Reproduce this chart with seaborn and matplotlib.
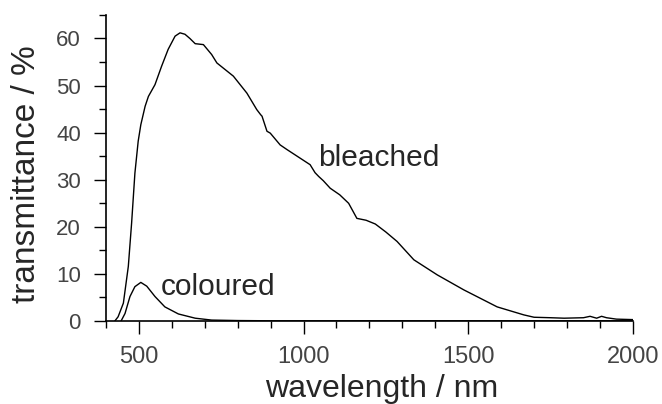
import numpy as np
import pandas as pd
import matplotlib
matplotlib.use("Agg")
import matplotlib.pyplot as plt
from matplotlib.ticker import MultipleLocator
import seaborn as sns

# bleached spectrum (wavelength nm, transmittance %)
bleached_nm = [427, 437, 453, 468, 478, 488, 498, 506, 519, 529, 549, 569, 589, 610, 625,
               640, 655, 671, 696, 721, 737, 762, 787, 828, 858, 870, 874, 889, 899, 929,
               950, 985, 1020, 1035, 1046, 1060, 1081, 1110, 1137, 1162, 1190, 1218, 1250,
               1284, 1335, 1406, 1487, 1588, 1669, 1700, 1750, 1791, 1850, 1870, 1890,
               1905, 1920, 1950, 2000]
bleached_T = [0.0, 0.9, 3.8, 11.6, 20.8, 31.4, 38.2, 41.7, 45.6, 47.7, 50.2, 54.1, 57.7,
              60.5, 61.2, 60.9, 60.0, 58.9, 58.7, 56.6, 54.8, 53.4, 52.0, 48.4, 44.9, 43.8,
              43.5, 40.3, 39.9, 37.4, 36.4, 34.8, 33.2, 31.5, 30.7, 29.8, 28.2, 26.8, 25.0,
              21.8, 21.4, 20.6, 18.9, 16.9, 13.0, 9.8, 6.6, 3.0, 1.3, 0.8, 0.7, 0.6, 0.7,
              1.0, 0.6, 1.0, 0.7, 0.4, 0.3]

# coloured spectrum
coloured_nm = [446, 458, 473, 488, 506, 524, 549, 579, 620, 671, 721, 800, 900, 1200, 1600, 2000]
coloured_T = [0.0, 1.6, 5.2, 7.3, 8.2, 7.4, 5.2, 3.0, 1.5, 0.6, 0.2, 0.1, 0.05, 0.05, 0.05, 0.05]

df = pd.concat([
    pd.DataFrame({"wavelength": bleached_nm, "T": bleached_T, "state": "bleached"}),
    pd.DataFrame({"wavelength": coloured_nm, "T": coloured_T, "state": "coloured"}),
])

sns.set_style("ticks")
plt.rcParams["font.family"] = ["Liberation Sans", "DejaVu Sans"]

fig = plt.figure(figsize=(6.62, 4.04), dpi=100)
ax = fig.add_axes([0.160, 0.2054, 0.796, 0.7576])

sns.lineplot(data=df, x="wavelength", y="T", hue="state", units="state", estimator=None,
             palette={"bleached": "black", "coloured": "black"}, linewidth=1.0,
             legend=False, sort=False, ax=ax)

ax.set_xlim(400, 2000)
ax.set_ylim(0, 65)
ax.xaxis.set_major_locator(MultipleLocator(500))
ax.xaxis.set_minor_locator(MultipleLocator(100))
ax.yaxis.set_major_locator(MultipleLocator(10))
ax.yaxis.set_minor_locator(MultipleLocator(5))
ax.set_xticks([500, 1000, 1500, 2000])

sns.despine(ax=ax)
for s in ["left", "bottom"]:
    ax.spines[s].set_linewidth(1.2)
    ax.spines[s].set_color("black")

ax.tick_params(which="major", length=9, width=1.0, color="black",
               labelcolor="#444444", pad=9)
ax.tick_params(axis="x", which="major", labelsize=17)
ax.tick_params(axis="y", which="major", labelsize=16)
ax.tick_params(which="minor", length=5, width=1.0, color="black")

ax.set_xlabel("wavelength / nm", fontsize=23)
ax.set_ylabel("transmittance / %", fontsize=24, va="center")
ax.xaxis.set_label_coords(0.523, -0.172)
ax.yaxis.set_label_coords(-0.151, 0.48)

ax.text(1230, 34.7, "bleached", fontsize=21.5, ha="center", va="center")
ax.text(742, 7.2, "coloured", fontsize=21.5, ha="center", va="center")

fig.savefig("out.png", dpi=100)
